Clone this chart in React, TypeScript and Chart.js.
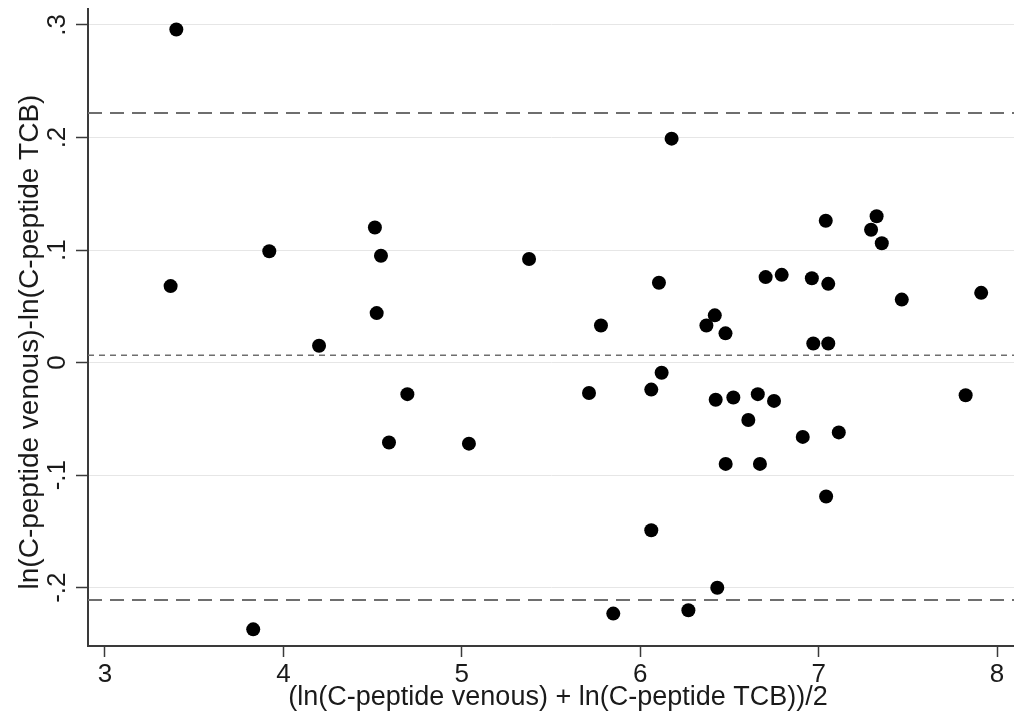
import React, { useEffect, useRef } from "react";
import { Chart, registerables } from "chart.js";

Chart.register(...registerables);

// Mean of the two log measurements (x)
const meanLogValues = [
  3.40, 3.368, 3.831, 3.921, 4.200, 4.513, 4.547, 4.523, 4.695, 4.592,
  5.040, 5.377, 5.713, 5.780, 5.849, 6.176, 6.105, 6.120, 6.062, 6.062,
  6.270, 6.432, 6.371, 6.418, 6.478, 6.423, 6.522, 6.479, 6.606, 6.659,
  6.750, 6.671, 6.703, 6.793, 6.911, 6.962, 6.970, 7.040, 7.054, 7.054,
  7.042, 7.113, 7.294, 7.325, 7.354, 7.466, 7.824, 7.911,
];
// Difference of the two log measurements (y)
const diffLogValues = [
  0.296, 0.068, -0.237, 0.099, 0.015, 0.120, 0.095, 0.044, -0.028, -0.071,
  -0.072, 0.092, -0.027, 0.033, -0.223, 0.199, 0.071, -0.009, -0.024, -0.149,
  -0.220, -0.200, 0.033, 0.042, 0.026, -0.033, -0.031, -0.090, -0.051, -0.028,
  -0.034, -0.090, 0.076, 0.078, -0.066, 0.075, 0.017, 0.126, 0.070, 0.017,
  -0.119, -0.062, 0.118, 0.130, 0.106, 0.056, -0.029, 0.062,
];

const meanDiff = 0.0066;
const upperLimit = 0.2218;
const lowerLimit = -0.211;

const xTicks = [3, 4, 5, 6, 7, 8];
const yTicks = [-0.2, -0.1, 0, 0.1, 0.2, 0.3];
const xRange = [2.905, 8.095];
const yRange = [-0.2518, 0.3142];

const xTitle = "(ln(C-peptide venous) + ln(C-peptide TCB))/2";
const yTitle = "ln(C-peptide venous)-ln(C-peptide TCB)";

const FONT = '"Liberation Sans", Arial, sans-serif';
const TEXT = "#1a1a1a";
const AXIS = "#3a3a3a";

const fmtY = (v: number) => {
  if (Math.abs(v) < 1e-9) return "0";
  return v.toFixed(1).replace("0.", ".");
};

const labelPlugin = {
  id: "labelPlugin",
  afterDraw(chart: any) {
    const scale = chart.scales.y;
    const ctx = chart.ctx;
    ctx.save();
    ctx.fillStyle = TEXT;
    // y tick labels (rotated)
    ctx.font = `26px ${FONT}`;
    ctx.textAlign = "center";
    ctx.textBaseline = "alphabetic";
    scale.ticks.forEach((t: any) => {
      const py = scale.getPixelForValue(t.value);
      ctx.save();
      ctx.translate(65, py);
      ctx.rotate(-Math.PI / 2);
      ctx.fillText(fmtY(t.value), 0, 0);
      ctx.restore();
    });
    // y axis title
    ctx.font = `28px ${FONT}`;
    ctx.textBaseline = "middle";
    ctx.save();
    ctx.translate(30, 342);
    ctx.rotate(-Math.PI / 2);
    ctx.fillText(yTitle, 0, 0);
    ctx.restore();
    // x axis title
    ctx.font = `27px ${FONT}`;
    ctx.fillText(xTitle, 558, 698);
    ctx.restore();
  },
};

export default function App() {
  const ref = useRef<HTMLCanvasElement | null>(null);
  useEffect(() => {
    if (!ref.current) return;
    const points = meanLogValues.map((x, i) => ({ x, y: diffLogValues[i] }));
    const hline = (v: number) => [
      { x: xRange[0], y: v },
      { x: xRange[1], y: v },
    ];
    const chart = new Chart(ref.current, {
      type: "scatter",
      data: {
        datasets: [
          {
            type: "line",
            data: hline(upperLimit),
            borderColor: "#6e6e6e",
            borderWidth: 2,
            borderDash: [14, 8],
            pointRadius: 0,
            fill: false,
          } as any,
          {
            type: "line",
            data: hline(lowerLimit),
            borderColor: "#6e6e6e",
            borderWidth: 2,
            borderDash: [14, 8],
            pointRadius: 0,
            fill: false,
          } as any,
          {
            type: "line",
            data: hline(meanDiff),
            borderColor: "#6e6e6e",
            borderWidth: 1.5,
            borderDash: [6, 5],
            pointRadius: 0,
            fill: false,
          } as any,
          {
            data: points,
            backgroundColor: "#000000",
            borderWidth: 0,
            pointRadius: 7,
            pointHoverRadius: 7,
          },
        ],
      },
      options: {
        animation: false,
        responsive: false,
        events: [],
        layout: { padding: { top: 9, left: 0, right: 0, bottom: 0 }, autoPadding: false },
        plugins: { legend: { display: false }, tooltip: { enabled: false } },
        scales: {
          x: {
            type: "linear",
            min: xRange[0],
            max: xRange[1],
            afterBuildTicks: (s: any) => {
              s.ticks = xTicks.map((v) => ({ value: v }));
            },
            afterFit: (s: any) => {
              s.height = 76;
            },
            grid: {
              drawOnChartArea: false,
              drawTicks: true,
              tickLength: 11,
              tickColor: AXIS,
              tickWidth: 1.5,
            },
            border: { display: true, color: AXIS, width: 2 },
            ticks: {
              color: TEXT,
              font: { family: FONT, size: 26 },
              padding: 2,
              maxRotation: 0,
              callback: (v: any) => String(v),
            },
            title: { display: false },
          },
          y: {
            type: "linear",
            min: yRange[0],
            max: yRange[1],
            afterBuildTicks: (s: any) => {
              s.ticks = yTicks.map((v) => ({ value: v }));
            },
            afterFit: (s: any) => {
              s.width = 88;
            },
            grid: {
              drawOnChartArea: true,
              color: "#e6e6e6",
              lineWidth: 1,
              drawTicks: true,
              tickLength: 12,
              tickColor: AXIS,
              tickWidth: 1.5,
            },
            border: { display: true, color: AXIS, width: 2 },
            ticks: { display: false },
            title: { display: false },
          },
        },
      },
      plugins: [labelPlugin],
    });
    return () => chart.destroy();
  }, []);
  return (
    <div style={{ position: "absolute", left: 0, top: 0, width: 1014, height: 722, background: "#fff" }}>
      <canvas ref={ref} width={1014} height={722} />
    </div>
  );
}
